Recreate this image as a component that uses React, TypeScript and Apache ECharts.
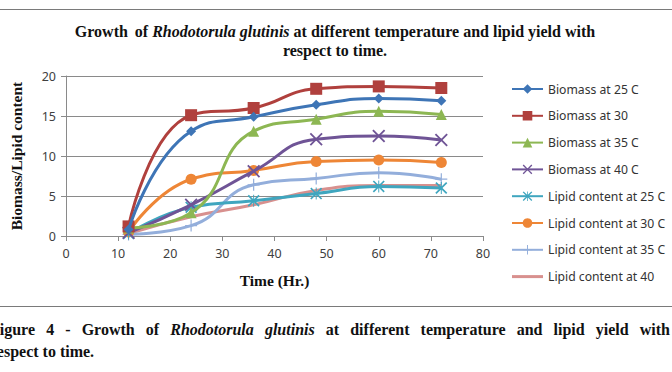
import React, { useEffect, useRef } from "react";
import * as echarts from "echarts";

const times = [12, 24, 36, 48, 60, 72];
const seriesNames = [
  "Biomass at 25 C",
  "Biomass at 30",
  "Biomass at 35 C",
  "Biomass at 40 C",
  "Lipid content at 25 C",
  "Lipid content at 30 C",
  "Lipid content at 35 C",
  "Lipid content at 40",
];
const biomass25 = [0.8, 13.1, 14.9, 16.4, 17.2, 16.9];
const biomass30 = [1.2, 15.1, 16.0, 18.4, 18.7, 18.5];
const biomass35 = [1.0, 2.9, 13.1, 14.6, 15.6, 15.2];
const biomass40 = [0.4, 3.9, 8.1, 12.1, 12.5, 12.0];
const lipid25 = [0.3, 3.6, 4.4, 5.3, 6.2, 6.0];
const lipid30 = [0.5, 7.1, 8.2, 9.3, 9.5, 9.2];
const lipid35 = [0.2, 1.3, 6.4, 7.2, 7.9, 7.1];
const lipid40 = [0.3, 2.4, 3.9, 5.7, 6.3, 6.3];
const allValues = [biomass25, biomass30, biomass35, biomass40, lipid25, lipid30, lipid35, lipid40];

const xTicks = { min: 0, max: 80, interval: 10 };
const yTicks = { min: 0, max: 20, interval: 5 };

const colors = ["#3e75b6", "#b0403d", "#8db753", "#6f5496", "#3fa6bf", "#ee8636", "#93aedb", "#d8908e"];

const X_PATH = "path://M0,1L1,0L5,4L9,0L10,1L6,5L10,9L9,10L5,6L1,10L0,9L4,5Z";
const AST_PATH =
  "path://M0,1L1,0L4.6,3.6L4.6,0L5.4,0L5.4,3.6L9,0L10,1L6,5L10,9L9,10L5.4,6.4L5.4,10L4.6,10L4.6,6.4L1,10L0,9L4,5Z";
const PLUS_PATH = "path://M4.5,0L5.5,0L5.5,4.5L10,4.5L10,5.5L5.5,5.5L5.5,10L4.5,10L4.5,5.5L0,5.5L0,4.5L4.5,4.5Z";
const LINE_ICON = "path://M0,0L31,0L31,3L0,3Z";
const symbols = ["diamond", "rect", "triangle", X_PATH, AST_PATH, "circle", PLUS_PATH, "none"];
const symbolSizes = [10, 12, 11, 13, 12, 11, 12, 0];

const titleWords = [
  { t: "Growth", extra: 3 },
  { t: "of" },
  { t: "Rhodotorula", it: true },
  { t: "glutinis", it: true },
  { t: "at" },
  { t: "different" },
  { t: "temperature" },
  { t: "and" },
  { t: "lipid" },
  { t: "yield" },
  { t: "with" },
];
const captionWords1 = [
  { t: "Figure" },
  { t: "4" },
  { t: "-" },
  { t: "Growth" },
  { t: "of" },
  { t: "Rhodotorula", it: true },
  { t: "glutinis", it: true },
  { t: "at" },
  { t: "different" },
  { t: "temperature" },
  { t: "and" },
  { t: "lipid" },
  { t: "yield" },
  { t: "with" },
];

const SERIF = '"Liberation Serif", "Times New Roman", serif';
const SANS = '"Noto Sans", "Liberation Sans", sans-serif';

type Word = { t: string; it?: boolean; extra?: number };

export default function App() {
  const ref = useRef<HTMLDivElement>(null);

  useEffect(() => {
    if (!ref.current) return;
    const chart = echarts.init(ref.current, undefined, { renderer: "svg" });

    const canvas = document.createElement("canvas");
    const ctx = canvas.getContext("2d")!;
    const measure = (t: string, it: boolean | undefined, size: number) => {
      ctx.font = `${it ? "italic " : ""}bold ${size}px ${SERIF}`;
      return ctx.measureText(t).width;
    };
    const wordEls = (words: Word[], y: number, size: number, x0: number, gapFn: (sum: number) => number) => {
      const widths = words.map((w) => measure(w.t, w.it, size));
      const sum = widths.reduce((a, b) => a + b, 0);
      const gap = gapFn(sum);
      let x = x0 === -1 ? 0 : x0;
      if (x0 === -1) {
        const extra = words.reduce((a, w) => a + (w.extra || 0), 0);
        x = 335 - (sum + gap * (words.length - 1) + extra) / 2;
      }
      return words.map((w, i) => {
        const el = {
          type: "text",
          x,
          y,
          silent: true,
          style: {
            text: w.t,
            fill: "#111",
            fontFamily: SERIF,
            fontWeight: "bold",
            fontStyle: w.it ? "italic" : "normal",
            fontSize: size,
            textAlign: "left",
            textVerticalAlign: "middle",
          },
        };
        x += widths[i] + gap + (w.extra || 0);
        return el;
      });
    };

    const titleSize = 16;
    const titleSpace = measure(" ", false, titleSize);
    const titleEls = wordEls(titleWords, 31, titleSize, -1, () => titleSpace);
    const capX0 = -10;
    const capX1 = 670;
    const capEls = wordEls(captionWords1, 329, 16, capX0, (sum) => (capX1 - capX0 - sum) / (captionWords1.length - 1));

    const option: any = {
      animation: false,
      backgroundColor: "#fff",
      grid: { left: 56, top: 76, width: 427, height: 160, containLabel: false },
      xAxis: {
        type: "value",
        min: xTicks.min,
        max: xTicks.max,
        interval: xTicks.interval,
        name: "Time (Hr.)",
        nameLocation: "middle",
        nameGap: 36,
        nameTextStyle: { fontFamily: SERIF, fontWeight: "bold", fontSize: 15.5, color: "#111" },
        axisLine: { show: true, lineStyle: { color: "#8a8a8a", width: 1 } },
        axisTick: { show: true, length: 5, lineStyle: { color: "#8a8a8a" } },
        axisLabel: { fontFamily: SANS, fontSize: 12.5, color: "#404040", margin: 11 },
        splitLine: { show: false },
      },
      yAxis: {
        type: "value",
        min: yTicks.min,
        max: yTicks.max,
        interval: yTicks.interval,
        name: "Biomass/Lipid content",
        nameLocation: "middle",
        nameGap: 42,
        nameRotate: 90,
        nameTextStyle: { fontFamily: SERIF, fontWeight: "bold", fontSize: 15.5, color: "#111" },
        axisLine: { show: true, lineStyle: { color: "#8a8a8a", width: 1 } },
        axisTick: { show: true, length: 5, lineStyle: { color: "#8a8a8a" } },
        axisLabel: { fontFamily: SANS, fontSize: 12.5, color: "#404040", margin: 10 },
        splitLine: { show: true, lineStyle: { color: "#8a8a8a", width: 1 } },
      },
      legend: {
        orient: "vertical",
        left: 511,
        top: 83,
        padding: 0,
        itemWidth: 31,
        itemHeight: 12,
        itemGap: 14.8,
        textStyle: { fontFamily: SANS, fontSize: 12.2, color: "#333" },
        data: seriesNames.map((name, si) => (symbols[si] === "none" ? { name, icon: LINE_ICON } : name)),
      },
      series: seriesNames.map((name, si) => ({
        name,
        type: "line",
        smooth: 0.5,
        symbol: symbols[si],
        symbolSize: symbolSizes[si],
        showSymbol: symbols[si] !== "none",
        lineStyle: { color: colors[si], width: 3 },
        itemStyle: { color: colors[si], borderColor: colors[si], borderWidth: 0 },
        data: times.map((t, i) => [t, allValues[si][i]]),
        z: 10 - si,
      })),
      graphic: [
        {
          type: "line",
          silent: true,
          shape: { x1: 0, y1: 9.5, x2: 672, y2: 9.5 },
          style: { stroke: "#7a7a7a", lineWidth: 1.2 },
        },
        {
          type: "line",
          silent: true,
          shape: { x1: 0, y1: 306.5, x2: 672, y2: 306.5 },
          style: { stroke: "#7a7a7a", lineWidth: 1.2 },
        },
        ...titleEls,
        {
          type: "text",
          x: 335,
          y: 50,
          silent: true,
          style: {
            text: "respect to time.",
            fill: "#111",
            fontFamily: SERIF,
            fontWeight: "bold",
            fontSize: titleSize,
            textAlign: "center",
            textVerticalAlign: "middle",
          },
        },
        ...capEls,
        {
          type: "text",
          x: -10,
          y: 351,
          silent: true,
          style: {
            text: "respect to time.",
            fill: "#111",
            fontFamily: SERIF,
            fontWeight: "bold",
            fontSize: 16,
            textAlign: "left",
            textVerticalAlign: "middle",
          },
        },
      ],
    };
    chart.setOption(option);
    return () => chart.dispose();
  }, []);

  return (
    <div style={{ position: "fixed", left: 0, top: 0, width: 672, height: 372, background: "#fff" }}>
      <div ref={ref} style={{ width: 672, height: 372 }} />
    </div>
  );
}
